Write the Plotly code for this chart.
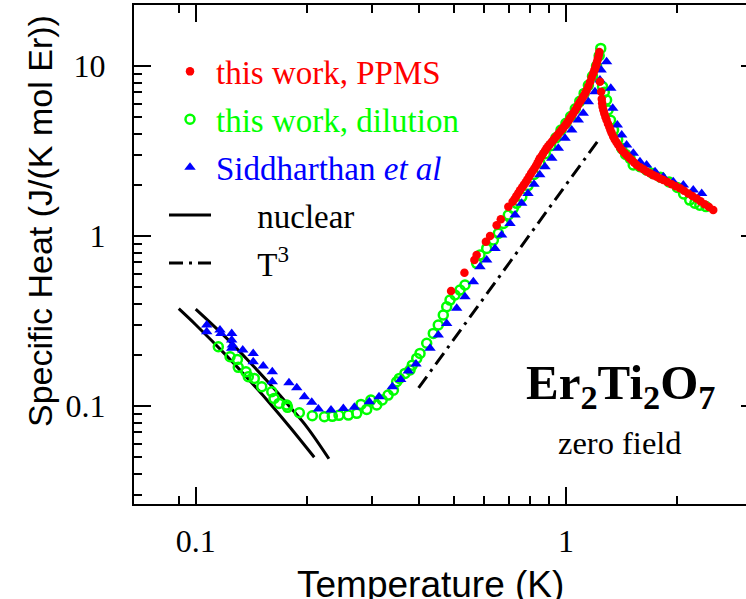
import plotly.graph_objects as go

# ---------------- data ----------------
ppms_T = [0.4896, 0.532, 0.566, 0.574, 0.608, 0.624, 0.650, 0.667, 0.699, 0.718,
          0.727, 0.735, 0.744, 0.752, 0.761, 0.770, 0.779, 0.787, 0.796, 0.805,
          0.813, 0.822, 0.830, 0.838, 0.845, 0.851, 0.860, 0.868, 0.878, 0.887,
          0.896, 0.905, 0.915, 0.925, 0.934, 0.944, 0.954, 0.964, 0.975, 0.985,
          0.995, 1.005, 1.016, 1.026, 1.036, 1.047, 1.058, 1.070, 1.081, 1.092,
          1.104, 1.115, 1.127, 1.138, 1.150, 1.162, 1.174, 1.186, 1.193, 1.200,
          1.206, 1.211, 1.217, 1.222, 1.227, 1.231,
          1.236, 1.245, 1.250, 1.253, 1.256, 1.263, 1.270, 1.279, 1.288, 1.299,
          1.310, 1.320, 1.330, 1.342, 1.355, 1.370, 1.385, 1.402, 1.420, 1.440,
          1.459, 1.482, 1.505, 1.528, 1.553, 1.586, 1.620, 1.653, 1.687, 1.723,
          1.760, 1.796, 1.833, 1.880, 1.930, 1.980, 2.033, 2.085, 2.140, 2.195,
          2.255, 2.310, 2.370, 2.435, 2.500]
ppms_C = [0.475, 0.608, 0.722, 0.773, 0.926, 1.00, 1.156, 1.254, 1.487, 1.59,
          1.65, 1.72, 1.79, 1.86, 1.93, 2.00, 2.07, 2.15, 2.24, 2.33,
          2.41, 2.50, 2.59, 2.68, 2.78, 2.87, 2.96, 3.06, 3.17, 3.28,
          3.37, 3.47, 3.57, 3.67, 3.77, 3.88, 3.99, 4.11, 4.23, 4.35,
          4.47, 4.60, 4.76, 4.93, 5.10, 5.27, 5.48, 5.70, 5.93, 6.17,
          6.40, 6.65, 6.92, 7.22, 7.60, 8.05, 8.55, 9.06, 9.40, 9.70,
          10.05, 10.4, 10.8, 11.2, 11.6, 12.1,
          8.08, 7.06, 6.40, 6.05, 5.76, 5.50, 5.25, 5.02, 4.81, 4.58,
          4.38, 4.19, 4.02, 3.85, 3.70, 3.56, 3.43, 3.30, 3.18, 3.08,
          2.99, 2.89, 2.80, 2.71, 2.62, 2.54, 2.47, 2.40, 2.34, 2.28,
          2.23, 2.18, 2.135, 2.08, 2.02, 1.965, 1.908, 1.845, 1.78, 1.72,
          1.665, 1.60, 1.54, 1.48, 1.422]

dil_T = [0.1151, 0.1238, 0.1296, 0.1303, 0.1367, 0.1387, 0.144, 0.1508, 0.1605, 0.1628,
         0.1679, 0.1762, 0.1770, 0.1905, 0.2065, 0.2226, 0.2339, 0.2438, 0.2584, 0.2723,
         0.2796, 0.2897, 0.2973, 0.3083, 0.319, 0.331, 0.342, 0.349, 0.355, 0.3675,
         0.3793, 0.3846, 0.3954, 0.4036, 0.4207, 0.4383, 0.4521, 0.4664, 0.4764, 0.4864,
         0.5016, 0.5176, 0.5338, 0.574, 0.5861, 0.611, 0.637, 0.657, 0.678, 0.699,
         0.721, 0.736, 0.760, 0.790, 0.820, 0.850, 0.880, 0.910, 0.940, 0.970,
         1.000, 1.030, 1.060, 1.090, 1.120, 1.150, 1.180, 1.210, 1.230, 1.242,
         1.256, 1.270, 1.288, 1.300, 1.320, 1.345, 1.380, 1.415, 1.450, 1.490,
         1.520, 1.585, 1.650, 1.720, 1.800, 1.900, 2.000, 2.080, 2.160, 2.230,
         2.300, 2.390]
dil_C = [0.2233, 0.195, 0.188, 0.169, 0.159, 0.149, 0.1455, 0.1299, 0.1214, 0.1109,
         0.1037, 0.1014, 0.0983, 0.0913, 0.0877, 0.0865, 0.087, 0.0882, 0.0885, 0.0906,
         0.1023, 0.0956, 0.1085, 0.1014, 0.1085, 0.116, 0.124, 0.139, 0.1455, 0.1557,
         0.163, 0.174, 0.1907, 0.204, 0.234, 0.2676, 0.2996, 0.343, 0.3838, 0.420,
         0.4498, 0.481, 0.515, 0.691, 0.773, 0.846, 0.947, 1.037, 1.187, 1.33,
         1.455, 1.557, 1.70, 1.98, 2.30, 2.70, 3.05, 3.40, 3.78, 4.20,
         4.60, 5.05, 5.60, 6.20, 6.90, 7.70, 8.70, 10.0, 11.5, 12.7,
         7.56, 7.00, 6.31, 5.51, 4.80, 4.20, 3.70, 3.28, 3.02, 2.865,
         2.62, 2.556, 2.45, 2.33, 2.22, 2.08, 1.93, 1.77, 1.628, 1.56,
         1.52, 1.49]

sid_T = [0.1071, 0.1071, 0.1163, 0.1170, 0.1251, 0.1251, 0.1256, 0.1251, 0.1340, 0.1430,
         0.1430, 0.1522, 0.1610, 0.1610, 0.1786, 0.1875, 0.1966, 0.2058, 0.2145, 0.2320,
         0.2505, 0.2683, 0.2944, 0.3127, 0.3397, 0.3579, 0.3751, 0.3936, 0.4295, 0.4521,
         0.4764, 0.5070, 0.5338, 0.5623, 0.5861, 0.6110, 0.6435, 0.6705, 0.7063, 0.7289,
         0.7595, 0.790, 0.820, 0.850, 0.878, 0.916, 0.954, 0.9945, 1.037, 1.080,
         1.114, 1.150, 1.198, 1.236, 1.245, 1.288, 1.322, 1.338, 1.377, 1.415,
         1.459, 1.521, 1.585, 1.652, 1.741, 1.833, 1.950, 2.076, 2.208, 2.327]
sid_C = [0.2996, 0.2735, 0.280, 0.2676, 0.2676, 0.2445, 0.2286, 0.2185, 0.2135, 0.204,
         0.1823, 0.172, 0.159, 0.139, 0.137, 0.128, 0.1135, 0.1052, 0.096, 0.0947,
         0.0966, 0.0983, 0.106, 0.1135, 0.1299, 0.1435, 0.1607, 0.1767, 0.2185, 0.2616,
         0.3064, 0.3756, 0.4395, 0.5384, 0.6598, 0.722, 0.846, 1.014, 1.187, 1.33,
         1.557, 1.78, 2.02, 2.29, 2.556, 2.865, 3.28, 3.755, 4.20, 4.81,
         5.27, 6.17, 7.06, 8.27, 9.47, 10.6, 7.39, 5.64, 4.50, 3.93,
         3.43, 3.065, 2.735, 2.62, 2.39, 2.23, 2.086, 1.995, 1.865, 1.782]

nuc1_T = [0.090, 0.100, 0.120, 0.140, 0.160, 0.180, 0.209]
nuc1_C = [0.374, 0.301, 0.202, 0.141, 0.1015, 0.0748, 0.050]
nuc2_T = [0.100, 0.120, 0.140, 0.160, 0.180, 0.200, 0.229]
nuc2_C = [0.372, 0.256, 0.181, 0.132, 0.0985, 0.075, 0.049]

t3_T = [0.40, 1.24]
t3_C = [0.128, 3.81]

x_ticks = [0.1, 1]
x_ticktext = ["0.1", "1"]
x_minor = [0.09, 0.2, 0.3, 0.4, 0.5, 0.6, 0.7, 0.8, 0.9, 2]
y_ticks = [0.1, 1, 10]
y_ticktext = ["0.1", "1", "10"]
y_minor = [0.03, 0.04, 0.05, 0.06, 0.07, 0.08, 0.09,
           0.2, 0.3, 0.4, 0.5, 0.6, 0.7, 0.8, 0.9,
           2, 3, 4, 5, 6, 7, 8, 9]

SERIF = "Liberation Serif"
SANS = "Liberation Sans"
NB = "\u00a0"

fig = go.Figure()

fig.add_trace(go.Scatter(x=nuc1_T, y=nuc1_C, mode="lines", name=NB * 5 + "nuclear",
                         line=dict(color="black", width=3, shape="spline"),
                         legendrank=4, legendgroup="d"))
fig.add_trace(go.Scatter(x=nuc2_T, y=nuc2_C, mode="lines", name="nuclear", showlegend=False,
                         line=dict(color="black", width=3, shape="spline"), legendgroup="d"))
# the T^3 line is drawn on the right-hand (identical) log axis so that axis shows its ticks
fig.add_trace(go.Scatter(x=t3_T, y=t3_C, mode="lines", name=NB * 5 + "T<sup>3</sup>",
                         yaxis="y2",
                         line=dict(color="black", width=3, dash="14px,6px,3px,6px"),
                         legendrank=5, legendgroup="e"))
fig.add_trace(go.Scatter(x=dil_T, y=dil_C, mode="markers",
                         name='<span style="color:#00ff00">this work, dilution</span>',
                         marker=dict(symbol="circle-open", size=9, color="#00ff00",
                                     line=dict(width=2.5, color="#00ff00")),
                         legendrank=2, legendgroup="b"))
fig.add_trace(go.Scatter(x=sid_T, y=sid_C, mode="markers",
                         name='<span style="color:#0000ff">Siddharthan <i>et al</i></span>',
                         marker=dict(symbol="triangle-up", size=10, color="#0000ff"),
                         legendrank=3, legendgroup="c"))
fig.add_trace(go.Scatter(x=ppms_T, y=ppms_C, mode="markers",
                         name='<span style="color:#ff0000">this work, PPMS</span>',
                         marker=dict(symbol="circle", size=8.5, color="#ff0000"),
                         legendrank=1, legendgroup="a"))

axis_common = dict(
    type="log", showline=True, linecolor="black", linewidth=2,
    ticks="inside", ticklen=17, tickwidth=2, tickcolor="black",
    showgrid=False, zeroline=False,
    tickfont=dict(family=SERIF, size=32, color="black"),
)

fig.update_layout(
    width=746, height=599,
    margin=dict(l=134, r=0, t=5, b=95),
    paper_bgcolor="white", plot_bgcolor="white",
    xaxis=dict(axis_common, range=[-1.1667, 0.4865], mirror="ticks",
               tickvals=x_ticks, ticktext=x_ticktext, ticklabelstandoff=8,
               minor=dict(tickvals=x_minor, ticks="inside", ticklen=8, tickwidth=2,
                          tickcolor="black", showgrid=False)),
    yaxis=dict(axis_common, range=[-1.576, 1.359], mirror=False,
               tickvals=y_ticks, ticktext=y_ticktext, ticklabelstandoff=20,
               minor=dict(tickvals=y_minor, ticks="inside", ticklen=8, tickwidth=2,
                          tickcolor="black", showgrid=False)),
    yaxis2=dict(type="log", range=[-1.576, 1.359], overlaying="y", side="right",
                anchor="x", showline=False, showgrid=False, zeroline=False,
                ticks="inside", ticklen=5, tickwidth=2, tickcolor="black",
                tickvals=y_ticks, showticklabels=False),
    showlegend=True,
    legend=dict(x=(164 - 134) / 612, y=0.923, xanchor="left", yanchor="top",
                bgcolor="rgba(0,0,0,0)", borderwidth=0,
                font=dict(family=SERIF, size=33, color="black"),
                tracegroupgap=2, traceorder="grouped", itemwidth=42),
    annotations=[
        dict(text="<b>Er<sub>2</sub>Ti<sub>2</sub>O<sub>7</sub></b>", xref="paper", yref="paper",
             x=(620 - 134) / 612, y=(504 - 385) / 499, xanchor="center", yanchor="middle",
             showarrow=False, font=dict(family=SERIF, size=49, color="black")),
        dict(text="zero field", xref="paper", yref="paper",
             x=(620 - 134) / 612, y=(504 - 443) / 499, xanchor="center", yanchor="middle",
             showarrow=False, font=dict(family=SERIF, size=32.5, color="black")),
        dict(text="Temperature (K)", xref="paper", yref="paper",
             x=(430 - 134) / 612, y=(504 - 584) / 499, xanchor="center", yanchor="middle",
             showarrow=False, font=dict(family=SANS, size=37, color="black")),
        dict(text="Specific Heat (J/(K mol Er))", xref="paper", yref="paper",
             x=(40 - 134) / 612, y=(504 - 221) / 499, xanchor="center", yanchor="middle",
             textangle=-90, showarrow=False, font=dict(family=SANS, size=34, color="black")),
    ],
)

fig.write_html("out.html", config={"displayModeBar": False},
               post_script="document.body.style.margin='0';document.body.style.overflow='hidden';")
